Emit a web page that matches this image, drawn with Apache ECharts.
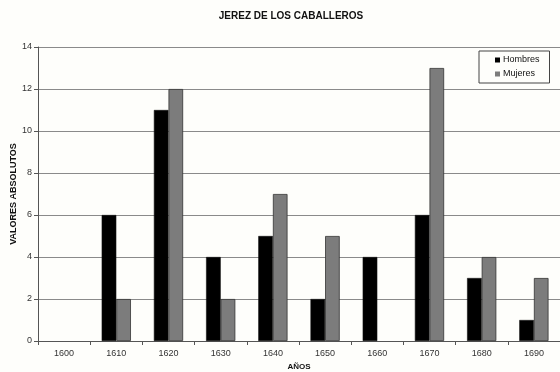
<!DOCTYPE html>
<html>
<head>
<meta charset="utf-8">
<script src="https://cdn.jsdelivr.net/npm/echarts@6/dist/echarts.min.js"></script>
<style>
  html, body { margin: 0; padding: 0; background: #fefefb; }
  #chart { width: 560px; height: 372px; }
</style>
</head>
<body>
<div id="chart"></div>
<script>
// Bautismos por decenio, Jerez de los Caballeros
const years = ['1600', '1610', '1620', '1630', '1640', '1650', '1660', '1670', '1680', '1690'];
const hombres = [0, 6, 11, 4, 5, 2, 4, 6, 3, 1];
const mujeres = [0, 2, 12, 2, 7, 5, 0, 13, 4, 3];
const yTicks = { min: 0, max: 14, step: 2 };

const font = 'Liberation Sans, Arial, sans-serif';

// Empty decades get no outline so nothing is drawn on the baseline
function bars(values, border) {
  return values.map(v => ({
    value: v,
    itemStyle: { borderWidth: v === 0 ? 0 : border }
  }));
}

const chart = echarts.init(document.getElementById('chart'), null, { renderer: 'canvas' });

chart.setOption({
  backgroundColor: '#fefefb',
  animation: false,
  title: {
    text: 'JEREZ DE LOS CABALLEROS',
    left: 286,
    textAlign: 'center',
    top: 6,
    textStyle: { fontFamily: font, fontSize: 10, fontWeight: 'bold', color: '#111' }
  },
  legend: {
    data: ['Hombres', 'Mujeres'],
    orient: 'vertical',
    left: 479,
    top: 51,
    width: 69,
    padding: [4, 10, 4, 16],
    itemGap: 4,
    itemWidth: 5,
    itemHeight: 5,
    icon: 'rect',
    borderColor: '#444',
    borderWidth: 1,
    backgroundColor: '#fefefb',
    textStyle: { fontFamily: font, fontSize: 9, color: '#111', lineHeight: 10, padding: [0, 0, 0, -2] }
  },
  grid: {
    left: 38, right: 0, top: 47, bottom: 31,
    containLabel: false,
    outerBoundsMode: 'none'
  },
  xAxis: {
    type: 'category',
    data: years,
    name: 'AÑOS',
    nameLocation: 'middle',
    nameGap: 22,
    nameMoveOverlap: false,
    nameTextStyle: { fontFamily: font, fontSize: 8, fontWeight: 'bold', color: '#111' },
    axisLine: { lineStyle: { color: '#555', width: 1 } },
    axisTick: { show: true, length: 4, lineStyle: { color: '#555' } },
    axisLabel: { fontFamily: font, fontSize: 9, color: '#333', margin: 8 }
  },
  yAxis: {
    type: 'value',
    min: yTicks.min,
    max: yTicks.max,
    interval: yTicks.step,
    name: 'VALORES ABSOLUTOS',
    nameLocation: 'middle',
    nameRotate: 90,
    nameGap: 20,
    nameMoveOverlap: false,
    nameTextStyle: { fontFamily: font, fontSize: 9, fontWeight: 'bold', color: '#111' },
    axisLine: { show: true, lineStyle: { color: '#555', width: 1 } },
    axisTick: { show: true, length: 4, lineStyle: { color: '#555' } },
    axisLabel: { fontFamily: font, fontSize: 9, color: '#333', margin: 6 },
    splitLine: { lineStyle: { color: '#8a8a8a', width: 1 } }
  },
  series: [
    {
      name: 'Hombres',
      type: 'bar',
      data: bars(hombres, 0.6),
      barWidth: '28%',
      barGap: '0%',
      itemStyle: { color: '#000000', borderColor: '#111' }
    },
    {
      name: 'Mujeres',
      type: 'bar',
      data: bars(mujeres, 0.8),
      barWidth: '28%',
      barGap: '0%',
      itemStyle: { color: '#7c7c7c', borderColor: '#333' }
    }
  ]
});
</script>
</body>
</html>
